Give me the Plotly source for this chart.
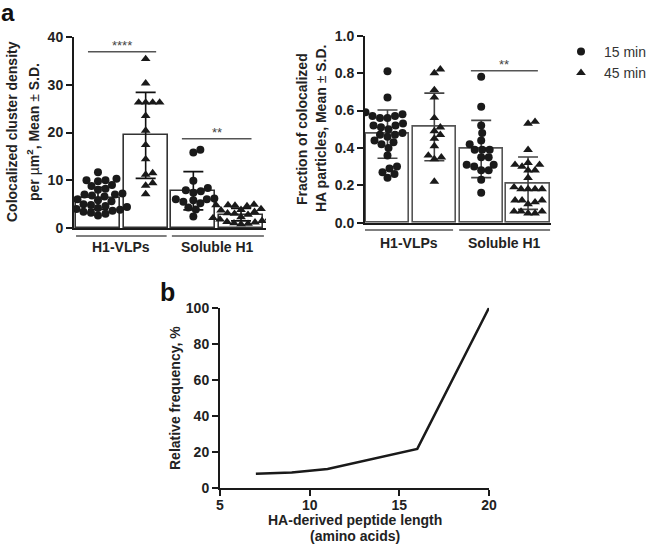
import plotly.graph_objects as go

# ---------------- DATA ----------------
groups = ["H1-VLPs", "Soluble H1"]
bar_pos = [0, 1, 2, 3]          # H1-VLPs 15/45, Soluble 15/45

# panel a-left: colocalized cluster density
dens_mean = [6.2, 19.4, 7.8, 2.8]
dens_sd = [2.3, 9.0, 4.0, 1.3]
dens_vlp_15 = [11.7, 10.3, 10.0, 10.0, 9.8, 9.0, 8.8, 8.2, 8.0, 7.2, 7.0, 7.0, 6.8, 6.6, 6.0,
               5.8, 5.6, 5.0, 4.8, 4.6, 4.4, 4.2, 4.0, 4.0, 3.8, 3.6, 3.4, 3.2, 3.0, 2.6]
dens_vlp_45 = [35.4, 30.3, 26.3, 26.3, 26.3, 26.3, 23.5, 20.4, 17.4, 14.4, 11.5, 11.2, 9.4, 8.9, 7.1]
dens_sol_15 = [16.4, 15.8, 9.9, 8.4, 7.9, 7.7, 7.4, 6.2, 6.0, 6.0, 5.8, 5.5, 5.2, 4.3, 3.9, 2.4]
dens_sol_45 = [4.9, 4.8, 4.8, 4.7, 4.6, 4.0, 3.8, 3.7, 3.4, 3.1, 3.0, 2.8, 2.3, 2.1, 2.0, 1.8,
               1.5, 1.3, 1.2, 1.0, 0.9, 0.8]

# panel a-right: fraction of colocalized HA particles
frac_mean = [0.474, 0.512, 0.394, 0.211]
frac_sd = [0.129, 0.181, 0.153, 0.140]
frac_vlp_15 = [0.81, 0.67, 0.59, 0.58, 0.57, 0.57, 0.56, 0.56, 0.53, 0.52, 0.52, 0.51, 0.50, 0.48,
               0.47, 0.47, 0.46, 0.44, 0.43, 0.42, 0.40, 0.36, 0.30, 0.29, 0.27, 0.26, 0.24]
frac_vlp_45 = [0.82, 0.80, 0.71, 0.67, 0.56, 0.51, 0.49, 0.47, 0.45, 0.41, 0.36, 0.35, 0.34, 0.22]
frac_sol_15 = [0.78, 0.62, 0.52, 0.48, 0.44, 0.42, 0.39, 0.39, 0.39, 0.35, 0.35, 0.31, 0.31, 0.30,
               0.28, 0.28, 0.23, 0.16]
frac_sol_45 = [0.54, 0.53, 0.39, 0.32, 0.31, 0.31, 0.30, 0.28, 0.28, 0.24, 0.19, 0.18, 0.18, 0.18,
               0.18, 0.12, 0.12, 0.12, 0.11, 0.10, 0.06, 0.06, 0.06, 0.05, 0.05]

# significance brackets: (x0, x1, y, label)
sig_dens = [(-0.21, 1.22, 36.9, "****"), (1.76, 3.22, 18.7, "**")]
sig_frac = [(1.78, 3.21, 0.813, "**")]

# panel b
pep_len = [7, 9, 11, 16, 20]
rel_freq = [8.0, 8.8, 10.7, 21.8, 100]

# ---------------- STYLE ----------------
W, H = 648, 545
FONT = "Liberation Sans, Arial, sans-serif"
INK = "#1a1a1a"


def px_x(p):
    return p / W


def px_y(p):
    return 1 - p / H


def swarm(values, y_px_per_unit, x_px_per_unit, diam):
    placed = []
    out = [0.0] * len(values)
    order = sorted(range(len(values)), key=lambda i: values[i])
    cands = [0.0]
    for k in range(1, 80):
        cands += [k * 0.5, -k * 0.5]
    for i in order:
        yp = values[i] * y_px_per_unit
        chosen = 0.0
        for c in cands:
            if all((c - a) ** 2 + (yp - b) ** 2 >= diam ** 2 for a, b in placed):
                chosen = c
                break
        placed.append((chosen, yp))
        out[i] = chosen / x_px_per_unit
    return out


fig = go.Figure()

# domains (pixels)
L_dom_x = [px_x(74), px_x(266)]
L_dom_y = [px_y(228), px_y(37)]
R_dom_x = [px_x(365), px_x(551)]
R_dom_y = [px_y(222.7), px_y(35.7)]
B_dom_x = [px_x(220), px_x(489)]
B_dom_y = [px_y(488.3), px_y(307.7)]

L_xr = [-0.503, 3.524]
R_xr = [-0.48, 3.49]
L_ypu = (228 - 37) / 40.0
L_xpu = (266 - 74) / (L_xr[1] - L_xr[0])
R_ypu = (222.7 - 35.7) / 1.0
R_xpu = (551 - 365) / (R_xr[1] - R_xr[0])


def add_panel(means, sds, sets, xa, ya, ypu, xpu, outline, errc, legend):
    fig.add_trace(go.Bar(
        x=bar_pos, y=means, width=0.92, xaxis=xa, yaxis=ya,
        marker=dict(color="white", line=dict(color=outline, width=1.6)),
        error_y=dict(type="data", array=sds, visible=True, color=errc, thickness=1.6, width=10),
        showlegend=False, hoverinfo="skip"))
    syms = ["circle", "triangle-up", "circle", "triangle-up"]
    names = ["15 min", "45 min", "15 min", "45 min"]
    for k, vals in enumerate(sets):
        diam = 7.5 if syms[k] == "circle" else 7.0
        offs = swarm(vals, ypu, xpu, diam)
        fig.add_trace(go.Scatter(
            x=[bar_pos[k] + o for o in offs], y=vals, mode="markers", xaxis=xa, yaxis=ya,
            marker=dict(symbol=syms[k], size=8 if syms[k] == "circle" else 8.5, color=INK),
            name=names[k], legendgroup=names[k],
            showlegend=(legend and k < 2), hoverinfo="skip"))


add_panel(dens_mean, dens_sd, [dens_vlp_15, dens_vlp_45, dens_sol_15, dens_sol_45],
          "x", "y", L_ypu, L_xpu, "#333333", "#111111", True)
add_panel(frac_mean, frac_sd, [frac_vlp_15, frac_vlp_45, frac_sol_15, frac_sol_45],
          "x2", "y2", R_ypu, R_xpu, "#555555", "#444444", False)

fig.add_trace(go.Scatter(x=pep_len, y=rel_freq, mode="lines", xaxis="x3", yaxis="y3",
                         line=dict(color=INK, width=2.5), showlegend=False, hoverinfo="skip"))

tickf = dict(family=FONT, size=14, color="#222222", weight="bold")
axis_common = dict(showline=True, linecolor=INK, linewidth=2, zeroline=False, showgrid=False,
                   ticks="outside", ticklen=6, tickwidth=2, tickcolor=INK, tickfont=tickf,
                   automargin=False)

fig.update_layout(
    width=W, height=H, margin=dict(l=0, r=0, t=0, b=0, pad=0, autoexpand=False),
    paper_bgcolor="white", plot_bgcolor="white",
    font=dict(family=FONT, color="#222222"),
    xaxis=dict(domain=L_dom_x, range=L_xr, anchor="y", showline=True, linecolor=INK, linewidth=2,
               zeroline=False, showgrid=False, showticklabels=False, ticks="", automargin=False),
    yaxis=dict(domain=L_dom_y, range=[0, 40], anchor="x", tickvals=[0, 10, 20, 30, 40], **axis_common),
    xaxis2=dict(domain=R_dom_x, range=R_xr, anchor="y2", showline=True, linecolor=INK, linewidth=2,
                zeroline=False, showgrid=False, showticklabels=False, ticks="", automargin=False),
    yaxis2=dict(domain=R_dom_y, range=[0, 1.0], anchor="x2", tickvals=[0, 0.2, 0.4, 0.6, 0.8, 1.0],
                tickformat=".1f", **axis_common),
    xaxis3=dict(domain=B_dom_x, range=[5, 20], anchor="y3", tickvals=[5, 10, 15, 20],
                ticklabelstandoff=-3, **axis_common),
    yaxis3=dict(domain=B_dom_y, range=[0, 100], anchor="x3", tickvals=[0, 20, 40, 60, 80, 100],
                **axis_common),
    legend=dict(x=px_x(558), y=px_y(36), xanchor="left", yanchor="top", itemwidth=36,
                font=dict(family=FONT, size=14, color="#333333"),
                bgcolor="rgba(0,0,0,0)", traceorder="grouped", tracegroupgap=0),
    bargap=0,
)

shapes = []
ann = []
bold14 = dict(family=FONT, size=14, color="#222222", weight="bold")
C = dict(xanchor="center", yanchor="middle", showarrow=False)

# group brackets + labels
for xa, ypx, lab_ypx, spans in [("x", 236, 247, [(-0.46, 1.44), (1.55, 3.48)]),
                                ("x2", 230, 243, [(-0.48, 1.40), (1.53, 3.47)])]:
    for (g, (a, b)) in zip(groups, spans):
        shapes.append(dict(type="line", xref=xa, yref="paper", x0=a, x1=b,
                           y0=px_y(ypx), y1=px_y(ypx), line=dict(color="#555555", width=1.5)))
        ann.append(dict(text=g, xref=xa, yref="paper", x=(a + b) / 2, y=px_y(lab_ypx),
                        font=bold14, **C))

# significance
for ya, xa, sigs in [("y", "x", sig_dens), ("y2", "x2", sig_frac)]:
    for (a, b, yv, lab) in sigs:
        shapes.append(dict(type="line", xref=xa, yref=ya, x0=a, x1=b, y0=yv, y1=yv,
                           line=dict(color="#555555", width=1.5)))
        ann.append(dict(text=lab, xref=xa, yref=ya, x=(a + b) / 2, y=yv, yanchor="bottom",
                        xanchor="center", showarrow=False, yshift=-3,
                        font=dict(family=FONT, size=13, color="#444444")))

# axis titles
ann += [
    dict(text="Colocalized cluster density", x=px_x(12), y=px_y(132), xref="paper", yref="paper",
         textangle=-90, font=bold14, **C),
    dict(text="per <span style='font-weight:normal'>µ</span>m<sup>2</sup>, Mean <span style='font-weight:normal'>±</span> S.D.",
         x=px_x(33), y=px_y(132), xref="paper", yref="paper",
         textangle=-90, font=bold14, **C),
    dict(text="Fraction of colocalized", x=px_x(302), y=px_y(129), xref="paper", yref="paper",
         textangle=-90, font=bold14, **C),
    dict(text="HA particles, Mean <span style='font-weight:normal'>±</span> S.D.", x=px_x(321),
         y=px_y(129), xref="paper", yref="paper", textangle=-90, font=bold14, **C),
    dict(text="Relative frequency, %", x=px_x(175), y=px_y(398), xref="paper", yref="paper",
         textangle=-90, font=bold14, **C),
    dict(text="HA-derived peptide length", x=px_x(354.5), y=px_y(520),
         xref="paper", yref="paper", font=bold14, **C),
    dict(text="(amino acids)", x=px_x(354.5), y=px_y(535.5),
         xref="paper", yref="paper", font=bold14, **C),
    dict(text="a", x=px_x(8), y=px_y(12), xref="paper", yref="paper", height=22,
         font=dict(family=FONT, size=24, color="#111111", weight="bold"), **C),
    dict(text="b", x=px_x(167.5), y=px_y(292), xref="paper", yref="paper",
         font=dict(family=FONT, size=25, color="#111111", weight="bold"), **C),
]

fig.update_layout(shapes=shapes, annotations=ann)
fig.write_html("out.html", config={"displayModeBar": False},
               post_script="document.body.style.margin='0';document.body.style.overflow='hidden';")
